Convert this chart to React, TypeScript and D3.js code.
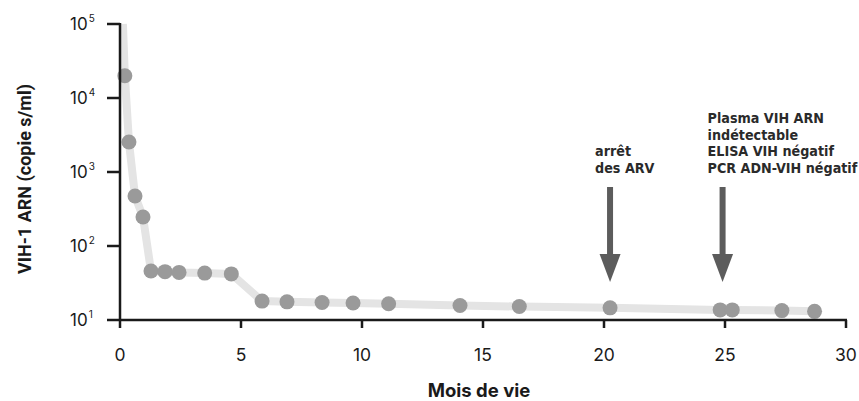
import React, { useEffect, useRef } from "react";
import * as d3 from "d3";

// months of life and viral load (copies/ml)
const months = [0.2, 0.37, 0.62, 0.95, 1.28, 1.86, 2.44, 3.5, 4.6, 5.87, 6.9, 8.35, 9.63, 11.1, 14.05, 16.5, 20.25, 24.8, 25.3, 27.35, 28.7];
const loads = [20000, 2540, 474, 247, 46, 45, 44, 43, 42, 18, 17.6, 17.2, 17, 16.6, 15.7, 15.2, 14.6, 13.7, 13.7, 13.4, 13.1];
// line starts above the first point, at the top of the axis
const lineStart = { m: 0.12, v: 100000 };

const xTicks = [0, 5, 10, 15, 20, 25, 30];
const yExps = [1, 2, 3, 4, 5];

const arrows = [
  { m: 20.25, lines: ["arrêt", "des ARV"] },
  { m: 24.9, lines: ["Plasma VIH ARN", "indétectable", "ELISA VIH négatif", "PCR ADN-VIH négatif"] },
];

const W = 859;
const H = 401;
const FONT = "Inter, Roboto, sans-serif";
const NOTE_FONT = "'DejaVu Sans Condensed', 'Liberation Sans Narrow', sans-serif";

const App = () => {
  const ref = useRef<SVGSVGElement>(null);

  useEffect(() => {
    const svg = d3.select(ref.current);
    svg.selectAll("*").remove();

    const x = d3.scaleLinear().domain([0, 30]).range([120, 846]);
    const y = d3.scaleLog().domain([10, 100000]).range([320, 24]);

    // line
    const pts: [number, number][] = [[lineStart.m, lineStart.v], ...months.map((m, i) => [m, loads[i]] as [number, number])];
    svg.append("path")
      .attr("d", d3.line<[number, number]>().x(d => x(d[0])).y(d => y(d[1]))(pts))
      .attr("fill", "none")
      .attr("stroke", "#e4e4e4")
      .attr("stroke-width", 8)
      .attr("stroke-linejoin", "round");

    // dots
    svg.selectAll(".dot")
      .data(months)
      .enter().append("circle")
      .attr("cx", d => x(d))
      .attr("cy", (d, i) => y(loads[i]))
      .attr("r", 7.5)
      .attr("fill", "#9a9a9a");

    // axes
    const axis = svg.append("g").attr("stroke", "#1a1a1a").attr("stroke-width", 2.5);
    axis.append("line").attr("x1", 120).attr("x2", 120).attr("y1", 23).attr("y2", 321);
    axis.append("line").attr("x1", 119).attr("x2", x(30) + 1).attr("y1", 320).attr("y2", 320);

    yExps.forEach(e => {
      const yy = y(Math.pow(10, e));
      axis.append("line").attr("x1", 107).attr("x2", 120).attr("y1", yy).attr("y2", yy);
      const t = svg.append("text")
        .attr("x", 70).attr("y", yy + 6)
        .style("font-family", FONT).style("font-size", "17px").style("fill", "#1a1a1a");
      t.append("tspan").text("10");
      t.append("tspan").attr("dy", -8).attr("dx", 1).style("font-size", "10px").text(String(e));
    });

    xTicks.forEach(v => {
      const xx = x(v);
      axis.append("line").attr("x1", xx).attr("x2", xx).attr("y1", 320).attr("y2", 328);
      svg.append("text")
        .attr("x", xx).attr("y", 361)
        .attr("text-anchor", "middle")
        .style("font-family", FONT).style("font-size", "17.5px").style("fill", "#1a1a1a")
        .text(v);
    });

    // axis titles
    svg.append("text")
      .attr("x", 479).attr("y", 397)
      .attr("text-anchor", "middle")
      .style("font-family", FONT).style("font-size", "18.5px").style("font-weight", "bold").style("fill", "#1a1a1a")
      .text("Mois de vie");
    svg.append("text")
      .attr("transform", "translate(31,179) rotate(-90)")
      .attr("text-anchor", "middle")
      .style("font-family", "Roboto, sans-serif").style("font-size", "18px").style("font-weight", "bold").style("fill", "#1a1a1a")
      .text("VIH-1 ARN (copie s/ml)");

    // arrows with annotations
    arrows.forEach(a => {
      const xx = x(a.m);
      svg.append("rect").attr("x", xx - 3).attr("y", 187).attr("width", 6).attr("height", 70).attr("fill", "#5c5c5c");
      svg.append("path")
        .attr("d", `M${xx - 10.5},254 L${xx + 10.5},254 L${xx},282 Z`)
        .attr("fill", "#5c5c5c");
      const n = a.lines.length;
      a.lines.forEach((l, i) => {
        svg.append("text")
          .attr("x", xx - 15).attr("y", 173 - (n - 1 - i) * 16.7)
          .style("font-family", NOTE_FONT).style("font-size", "14.2px").style("font-weight", "bold").style("fill", "#2a2a2a")
          .text(l);
      });
    });
  }, []);

  return <svg ref={ref} width={W} height={H} style={{ position: "absolute", left: 0, top: 0, background: "#fff" }} />;
};

export default App;
